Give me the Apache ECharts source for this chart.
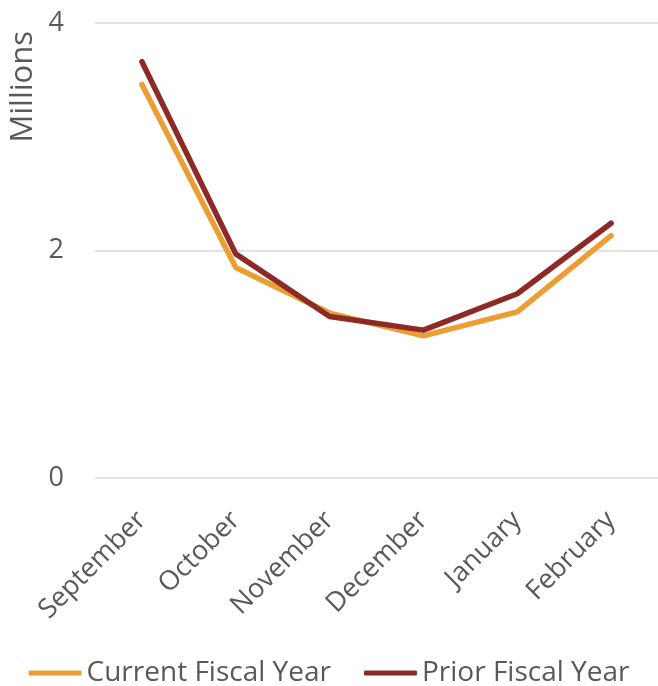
<!DOCTYPE html>
<html>
<head>
<meta charset="utf-8">
<script src="https://cdn.jsdelivr.net/npm/echarts@6/dist/echarts.min.js"></script>
<style>
html,body{margin:0;padding:0;background:#fff;}
#chart{width:658px;height:686px;}
</style>
</head>
<body>
<div id="chart"></div>
<script>
const categories = ['September', 'October', 'November', 'December', 'January', 'February'];
const currentFiscalYear = [3.46, 1.85, 1.45, 1.25, 1.46, 2.13];
const priorFiscalYear = [3.66, 1.97, 1.42, 1.30, 1.62, 2.24];
const yTicks = [0, 2, 4];

const textColor = '#595959';
const font = 'Open Sans';

const chart = echarts.init(document.getElementById('chart'), null, {renderer: 'canvas'});
chart.setOption({
  animation: false,
  backgroundColor: '#fff',
  grid: {left: 95, top: 23, width: 566, height: 455},
  xAxis: {
    type: 'category',
    data: categories,
    boundaryGap: true,
    axisLine: {show: false},
    axisTick: {show: false},
    axisLabel: {
      rotate: 45, margin: 38, color: textColor, fontFamily: font, fontSize: 27, interval: 0
    }
  },
  yAxis: {
    type: 'value',
    min: yTicks[0], max: yTicks[yTicks.length - 1], interval: 2,
    axisLine: {show: false},
    axisTick: {show: false},
    splitLine: {lineStyle: {color: '#D9D9D9', width: 1.5}},
    axisLabel: {color: textColor, fontFamily: font, fontSize: 27, margin: 31}
  },
  legend: {
    bottom: -6,
    left: 'center',
    icon: 'roundRect',
    itemWidth: 53,
    itemHeight: 5,
    itemGap: 33,
    textStyle: {color: textColor, fontFamily: font, fontSize: 28, padding: [0, 0, 0, 0]},
    data: ['Current Fiscal Year', 'Prior Fiscal Year']
  },
  graphic: [{
    type: 'text',
    left: 8, top: 31,
    rotation: Math.PI / 2,
    style: {text: 'Millions', fill: textColor, font: '31px "Open Sans"'}
  }],
  series: [
    {
      name: 'Current Fiscal Year', type: 'line', data: currentFiscalYear,
      symbol: 'none', color: '#EC9E35',
      lineStyle: {width: 5.5, color: '#EC9E35', cap: 'round', join: 'round'}
    },
    {
      name: 'Prior Fiscal Year', type: 'line', data: priorFiscalYear,
      symbol: 'none', color: '#8D2A26',
      lineStyle: {width: 5.5, color: '#8D2A26', cap: 'round', join: 'round'}
    }
  ]
});
</script>
</body>
</html>
